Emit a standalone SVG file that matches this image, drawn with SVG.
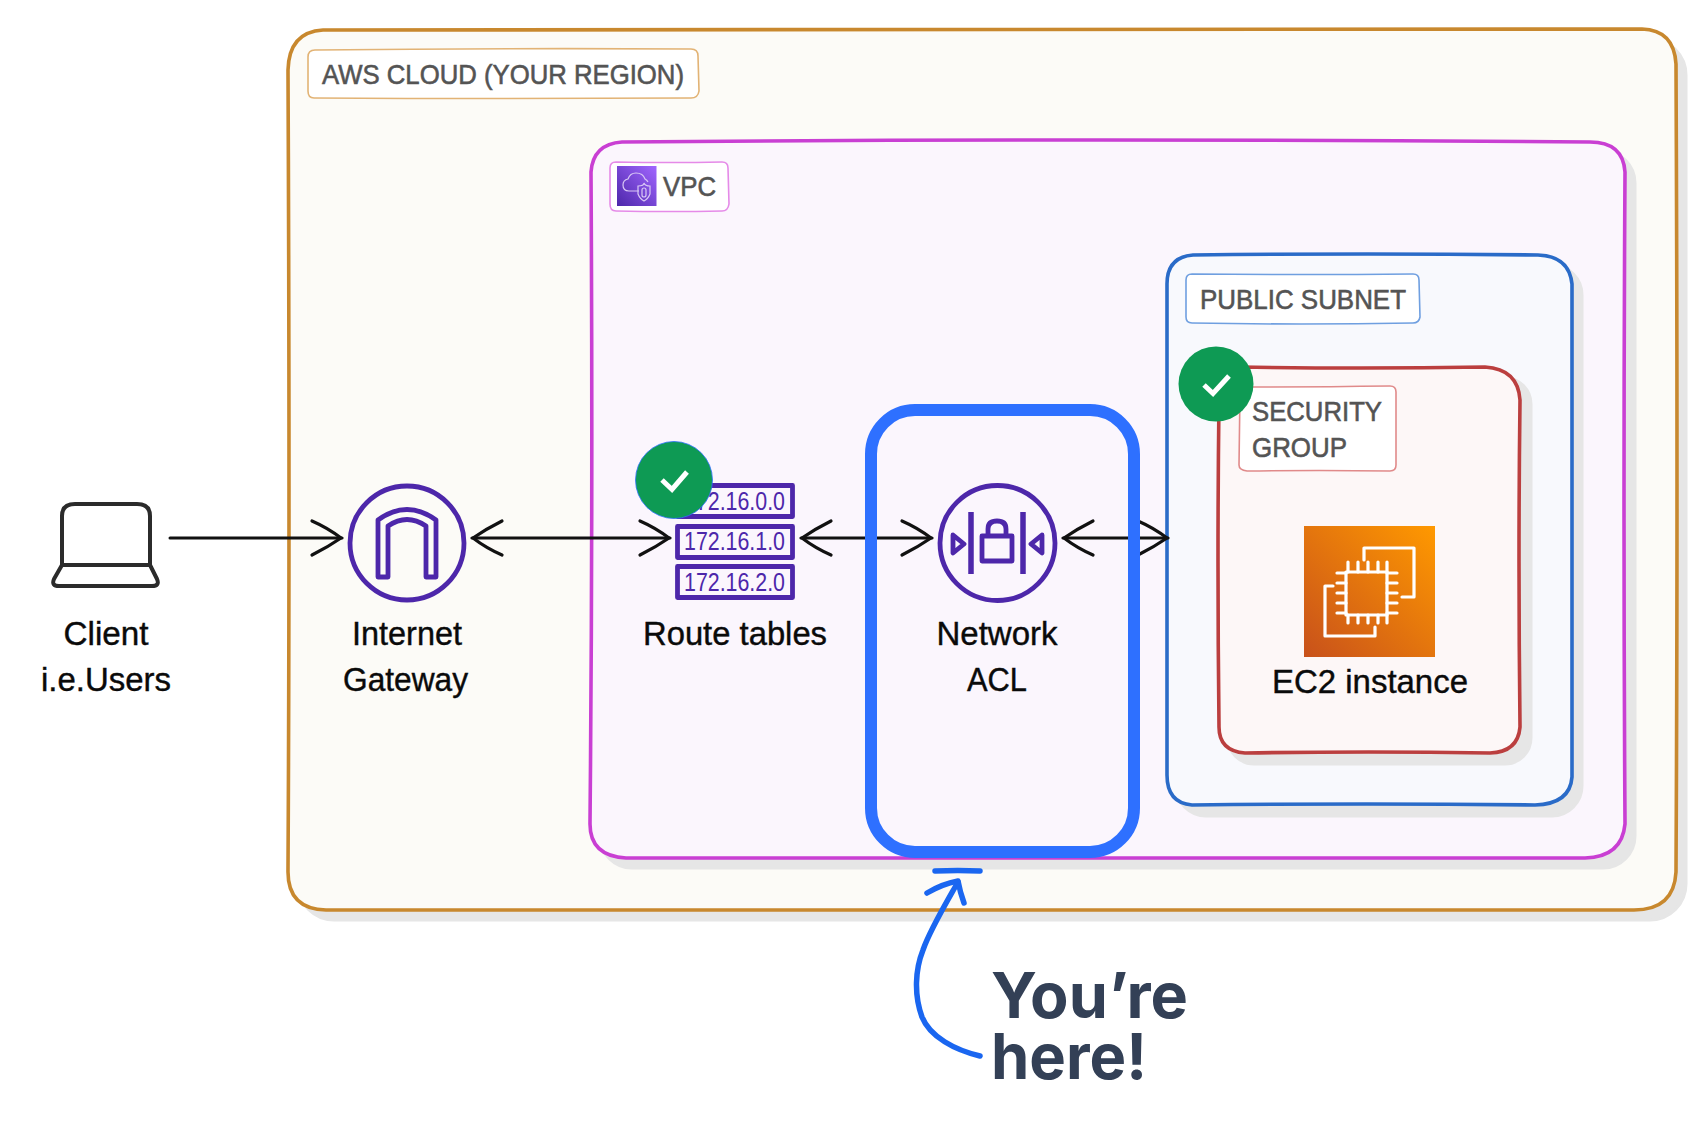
<svg xmlns="http://www.w3.org/2000/svg" width="1694" height="1124" viewBox="0 0 1694 1124">
<style>
.shadow{fill:#e6e6e6;stroke:#e6e6e6;stroke-width:3}
.box{stroke-width:3.6;stroke-linejoin:round}
.lbl{fill:#fff;stroke-width:1.6}
.lt{font-family:"Liberation Sans",Arial,sans-serif;font-size:28px;fill:#545454;stroke:#545454;stroke-width:.6}
.nt{font-family:"Liberation Sans",Arial,sans-serif;font-size:33px;fill:#0a0a0a;stroke:#0a0a0a;stroke-width:.4}
.pi{fill:none;stroke:#4d27aa;stroke-width:4.8;stroke-linejoin:round}
.ip{font-family:"Liberation Sans",Arial,sans-serif;font-size:25.6px;fill:#4d27aa}
.conn{fill:none;stroke:#111;stroke-width:3;stroke-linecap:round;marker-end:url(#open);marker-start:url(#open)}
.check{fill:none;stroke:#fff;stroke-width:5}
.ec{fill:none;stroke:#fff;stroke-width:3.2;stroke-linecap:round;stroke-linejoin:round}
.yh{font-family:Inter,"Liberation Sans",sans-serif;font-size:63px;font-weight:700;fill:#334056}
.vi{fill:none;stroke:#d9c8f5;stroke-width:1.2}
</style>
<defs>
<marker id="open" markerUnits="userSpaceOnUse" markerWidth="40" markerHeight="44" refX="32" refY="19" orient="auto-start-reverse" overflow="visible">
<path d="M2 2 Q18 9 31 19 Q18 28 2 36" fill="none" stroke="#111" stroke-width="3.2" stroke-linecap="round"/>
</marker>
<linearGradient id="vg" x1="0" y1="1" x2="1" y2="0"><stop offset="0" stop-color="#4d27aa"/><stop offset="1" stop-color="#a166ff"/></linearGradient>
<linearGradient id="eg" x1="0" y1="1" x2="1" y2="0"><stop offset="0" stop-color="#c8511b"/><stop offset="1" stop-color="#f90"/></linearGradient>
</defs>

<g id="aws-cloud">
<rect class="shadow" x="298" y="39" width="1388" height="881" rx="36"/>
<path class="box" fill="#fcfbf7" stroke="#c8882e" d="M323 30 Q900 28 1642 29 Q1674 30 1676 64 Q1678 500 1676 872 Q1674 910 1634 910 Q900 912 326 910 Q288 909 288 872 Q290 500 288 70 Q289 32 323 30Z"/>
<path class="lbl" stroke="#e2b375" d="M315 50 Q500 48 691 49 Q698 49 698 56 L699 91 Q698 98 691 98 Q500 99 314 98 Q308 98 308 91 L308 57 Q308 50 315 50Z"/>
<text class="lt" x="322" y="84" textLength="362" lengthAdjust="spacingAndGlyphs">AWS CLOUD (YOUR REGION)</text>
</g>

<g id="vpc">
<rect class="shadow" x="600" y="151" width="1035" height="717" rx="32"/>
<path class="box" fill="#fbf6fd" stroke="#c93fd3" d="M622 142 Q1100 138 1590 142 Q1623 142 1625 172 Q1623 500 1625 824 Q1622 857 1585 858 Q1100 856 626 858 Q590 856 590 824 Q593 500 591 172 Q593 144 622 142Z"/>
<path class="lbl" stroke="#e58ae8" d="M616 162 Q670 163 722 162 Q728 162 728 168 L729 204 Q728 211 722 211 Q670 212 616 211 Q610 211 610 204 L610 168 Q610 162 616 162Z"/>
<rect x="617" y="166" width="39.500" height="40" fill="url(#vg)"/>
<path class="vi" d="M639 191 H629 Q623 191 623 185 Q623 180 628 179 Q630 173 636 173 Q643 173 645 179 Q647 180 648 182"/>
<path class="vi" d="M638 186 Q644 186 644 183 Q645 186 650 186 V194 Q648 199 644 201 Q640 199 638 194 Z"/>
<rect class="vi" x="642" y="188" width="4" height="9" rx="2"/>
<text class="lt" x="663" y="196" textLength="53" lengthAdjust="spacingAndGlyphs">VPC</text>
</g>

<g id="public-subnet">
<rect class="shadow" x="1176" y="265" width="406" height="551" rx="30"/>
<path class="box" fill="#f8f9fd" stroke="#2a6bc8" d="M1193 255 Q1370 253 1538 255 Q1569 256 1572 284 Q1571 520 1572 777 Q1570 804 1535 805 Q1370 803 1192 805 Q1167 803 1167 775 Q1168 520 1167 284 Q1167 257 1193 255Z"/>
<path class="lbl" stroke="#6f9fe0" d="M1192 274 Q1300 275 1413 274 Q1419 274 1419 280 L1420 317 Q1419 323 1413 323 Q1300 325 1192 323 Q1186 323 1186 317 L1186 280 Q1186 274 1192 274Z"/>
<text class="lt" x="1200" y="309" textLength="206" lengthAdjust="spacingAndGlyphs">PUBLIC SUBNET</text>
</g>

<g id="security-group">
<rect class="shadow" x="1228" y="378" width="303" height="386" rx="26"/>
<path class="box" fill="#fdf7f7" stroke="#bb3f3f" d="M1240 367 Q1360 369 1485 367 Q1518 369 1520 400 Q1518 560 1520 727 Q1518 752 1490 753 Q1370 751 1245 753 Q1219 751 1219 727 Q1217 560 1219 400 Q1219 369 1240 367Z"/>
<path class="lbl" stroke="#e08a8a" d="M1245 387 Q1320 387 1390 386 Q1396 386 1396 392 L1396 465 Q1396 471 1390 471 Q1320 470 1247 471 Q1239 470 1239 465 L1240 392 Q1240 387 1245 387Z"/>
<text class="lt"><tspan x="1252" y="421" textLength="130" lengthAdjust="spacingAndGlyphs">SECURITY</tspan><tspan x="1252" y="457" textLength="95" lengthAdjust="spacingAndGlyphs">GROUP</tspan></text>
</g>

<g id="connectors">
<path class="conn" style="marker-start:none" d="M170 538 H342"/>
<path class="conn" d="M472 538 H670"/>
<path class="conn" d="M801 538 H932"/>
<path class="conn" d="M1063 538 H1168"/>
</g>

<g id="client">
<path d="M62 565 V516 Q62 504 75 504 H137 Q150 504 150 516 V565 Z M62 565 L54 579 Q51 586 59 586 H152 Q160 586 157 579 L150 565" fill="none" stroke="#2b2b2b" stroke-width="4" stroke-linejoin="round"/>
<text class="nt" x="63.500" y="645" textLength="85" lengthAdjust="spacingAndGlyphs">Client</text>
<text class="nt" x="41" y="690.500" textLength="130" lengthAdjust="spacingAndGlyphs">i.e.Users</text>
</g>

<g id="internet-gateway">
<circle class="pi" cx="407" cy="543" r="57"/>
<path class="pi" d="M378 577 V520 Q407 499 436 520 V577 H426 V526 Q407 513 388 526 V577 Z"/>
<text class="nt" x="352" y="645" textLength="110" lengthAdjust="spacingAndGlyphs">Internet</text>
<text class="nt" x="343" y="690.500" textLength="125" lengthAdjust="spacingAndGlyphs">Gateway</text>
</g>

<g id="route-tables">
<rect class="pi" x="677.500" y="485.500" width="115" height="31"/>
<rect class="pi" x="677.500" y="526.500" width="115" height="31"/>
<rect class="pi" x="677.500" y="566.500" width="115" height="31"/>
<text class="ip" x="684" y="510" textLength="101" lengthAdjust="spacingAndGlyphs">172.16.0.0</text>
<text class="ip" x="684" y="550" textLength="101" lengthAdjust="spacingAndGlyphs">172.16.1.0</text>
<text class="ip" x="684" y="590.500" textLength="101" lengthAdjust="spacingAndGlyphs">172.16.2.0</text>
<text class="nt" x="643" y="645" textLength="184" lengthAdjust="spacingAndGlyphs">Route tables</text>
<circle cx="674" cy="480" r="38.500" fill="#0e9a54" stroke="#2e70ff" stroke-width=".8"/>
<path class="check" d="M662 480 L672 489.500 L687 472"/>
</g>

<g id="network-acl">
<circle class="pi" cx="997.500" cy="543" r="57.500"/>
<path d="M971 512 V574 M1023 512 V574" fill="none" stroke="#4d27aa" stroke-width="5.500"/>
<rect class="pi" x="982" y="536" width="30" height="25"/>
<path class="pi" d="M988 536 V529 Q988 521 997 521 Q1006 521 1006 529 V536"/>
<path class="pi" d="M953 535 L964 544 L953 553 Z M1042 535 L1031 544 L1042 553 Z"/>
<text class="nt" x="936.500" y="645" textLength="121" lengthAdjust="spacingAndGlyphs">Network</text>
<text class="nt" x="967" y="690.500" textLength="60" lengthAdjust="spacingAndGlyphs">ACL</text>
</g>

<g id="ec2-instance">
<rect x="1304" y="526" width="131" height="131" fill="url(#eg)"/>
<path class="ec" d="M1364 560 V548 H1414 V597 H1402"/>
<path class="ec" d="M1333 586 H1325 V636 H1375 V627"/>
<rect class="ec" x="1346" y="572" width="41" height="43"/>
<path class="ec" d="M1348 562 V572 M1358 562 V572 M1368 562 V572 M1378 562 V572 M1387 562 V572 M1348 615 V623 M1358 615 V623 M1368 615 V623 M1378 615 V623 M1387 615 V623 M1337 573 H1346 M1337 583 H1346 M1337 593 H1346 M1337 603 H1346 M1337 613 H1346 M1387 573 H1397 M1387 583 H1397 M1387 593 H1397 M1387 603 H1397 M1387 613 H1397"/>
<text class="nt" x="1272" y="692.500" textLength="196" lengthAdjust="spacingAndGlyphs">EC2 instance</text>
</g>

<g id="security-group-check">
<circle cx="1216" cy="384" r="37.500" fill="#0e9a54"/>
<path class="check" d="M1204 385 L1213 393.500 L1229 376"/>
</g>

<g id="highlight">
<rect x="871" y="410" width="263" height="442" rx="44" fill="none" stroke="#2e70ff" stroke-width="12"/>
</g>

<g id="callout">
<path d="M935 871 Q958 870 980 871" fill="none" stroke="#1a66f0" stroke-width="5.500" stroke-linecap="round"/>
<path d="M980 1056 C955 1050 930 1037 922 1017 C914 995 915 970 923 950 C930 930 945 905 958 882" fill="none" stroke="#1a66f0" stroke-width="5.500" stroke-linecap="round"/>
<path d="M927 893 Q942 884 958 881 Q960 892 964 903" fill="none" stroke="#1a66f0" stroke-width="5.500" stroke-linecap="round" stroke-linejoin="round"/>
<text class="yh" x="991" y="1018" textLength="197" lengthAdjust="spacingAndGlyphs">You’re</text>
<text class="yh" x="991" y="1079" textLength="156" lengthAdjust="spacingAndGlyphs">here!</text>
</g>
</svg>
